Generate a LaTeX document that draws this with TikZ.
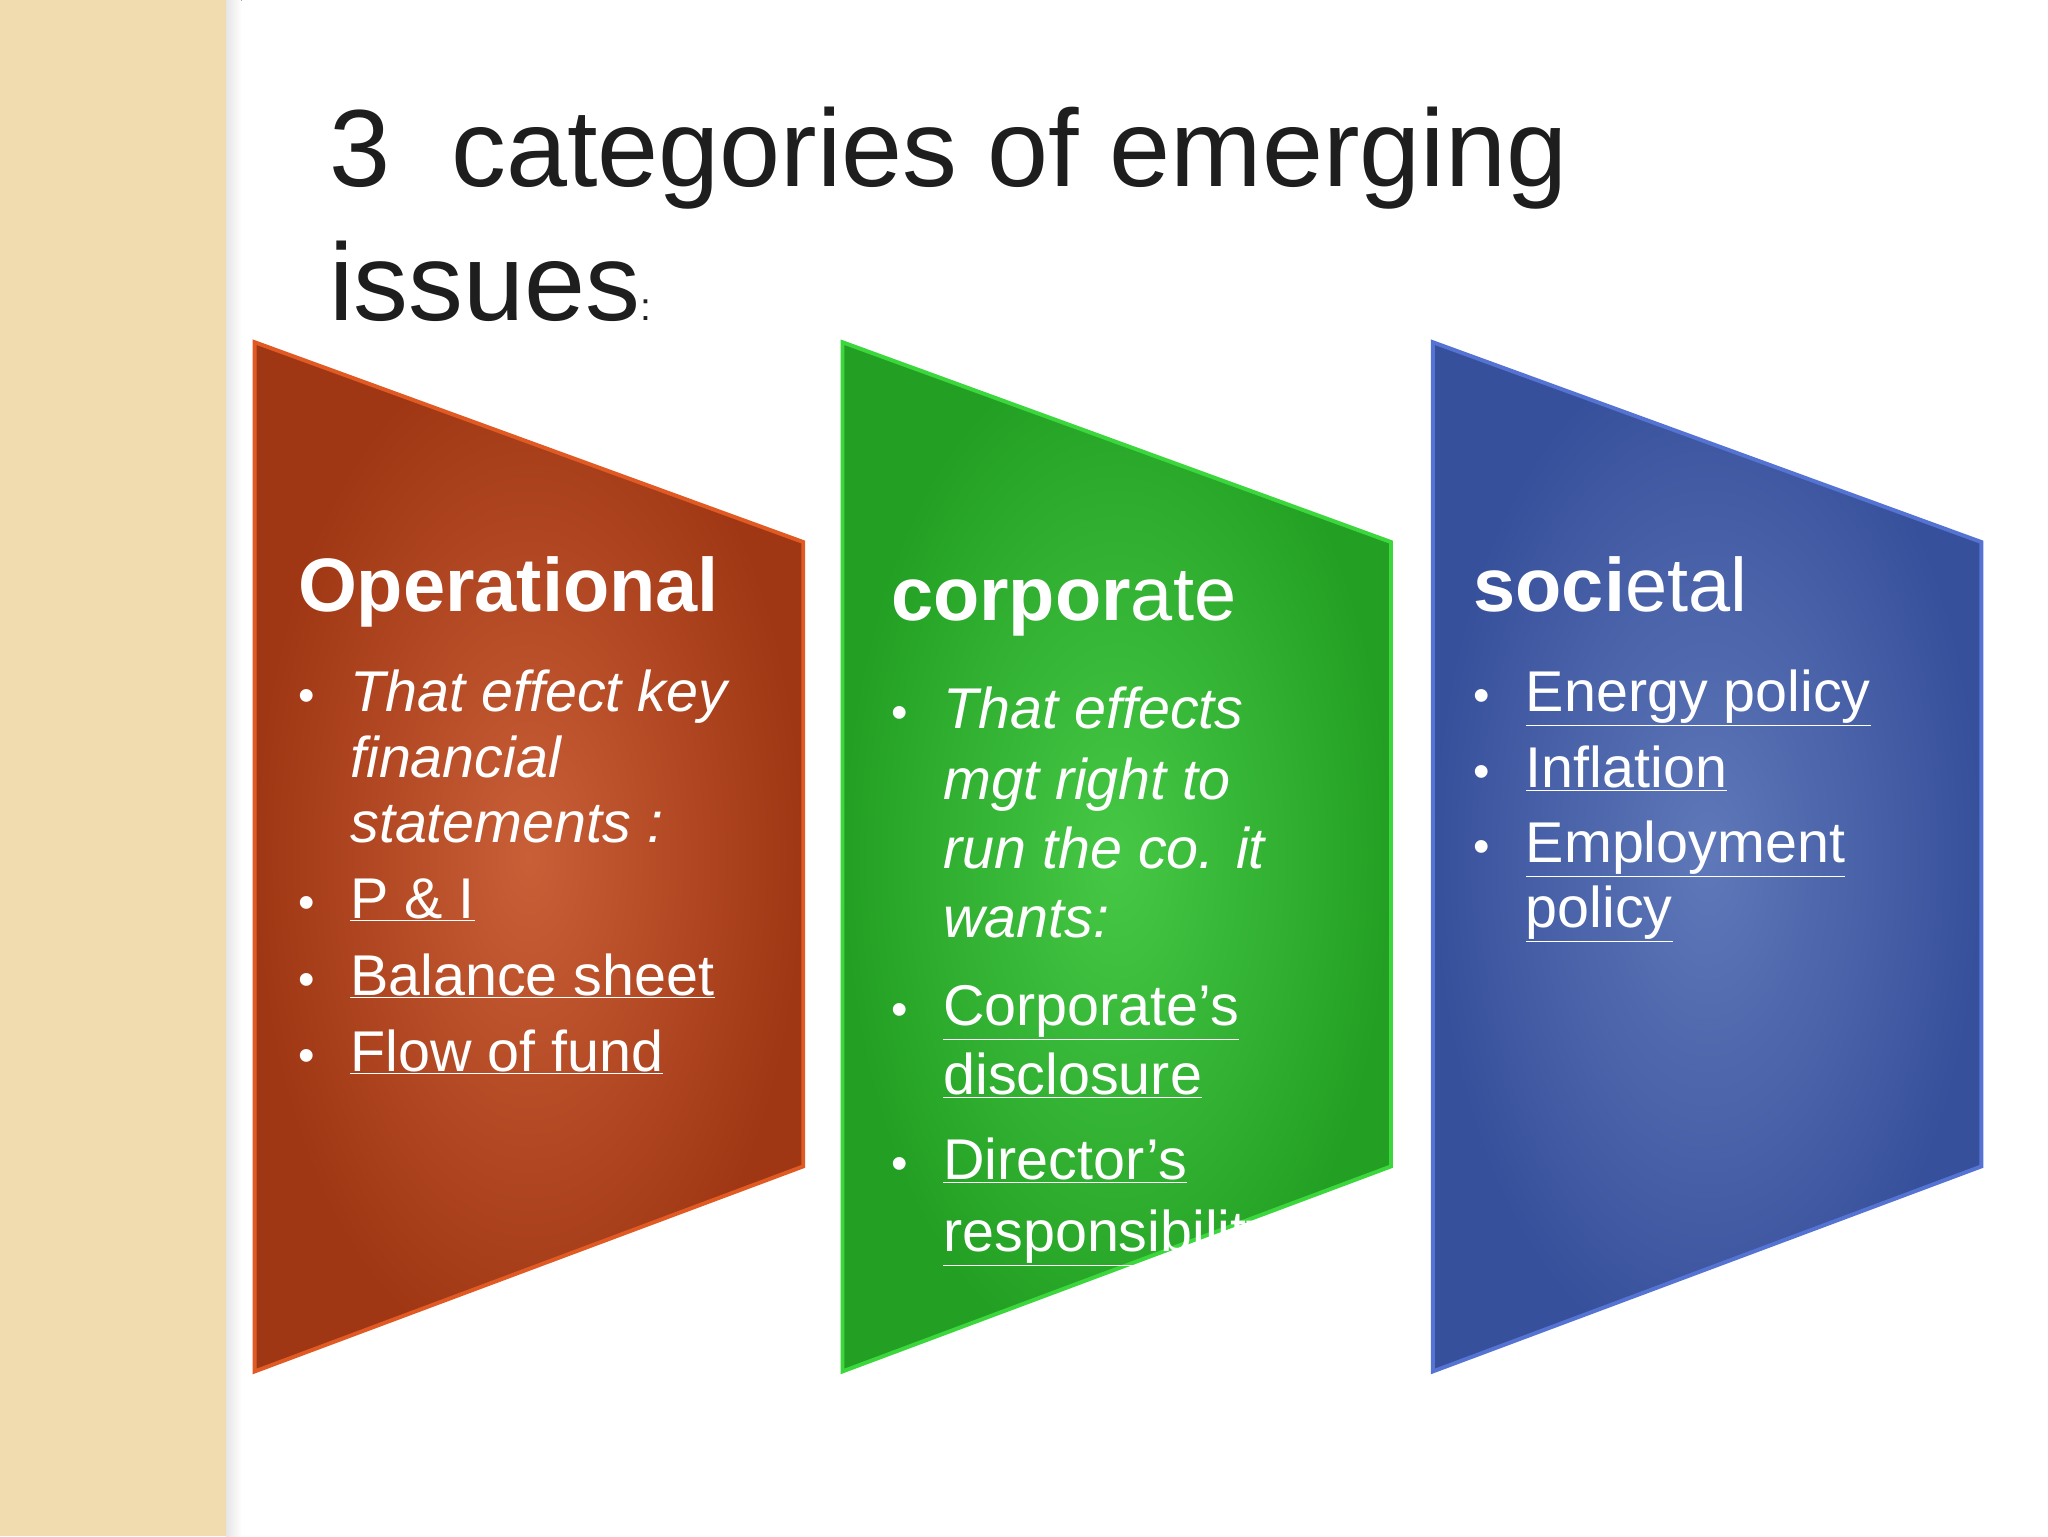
\documentclass[tikz,border=0pt]{standalone}
\usepackage{fontspec}
\setmainfont{Liberation Sans}
\begin{document}
\begin{tikzpicture}[x=1pt,y=-1pt,
  ln/.style={anchor=base west,inner sep=0pt,text=white,font=\fontsize{44}{50}\selectfont},
  hd/.style={anchor=base west,inner sep=0pt,text=white,font=\fontsize{58}{60}\selectfont},
  bl/.style={anchor=base west,inner sep=0pt,text=white,font=\fontsize{36}{40}\selectfont}]
\useasboundingbox (0,0) rectangle (1568,1176);
\fill[white] (0,0) rectangle (1568,1176);
\fill[left color=white!90!black,right color=white] (173,0) rectangle (185,1176);
\fill[fill=orange!25!yellow!30!white!95!brown] (0,0) rectangle (173,1176);
\fill[color={rgb,255:red,240;green,220;blue,175}] (0,0) rectangle (173,1176);
% title
\node[anchor=base west,inner sep=0pt,text={rgb,255:red,30;green,30;blue,30},font=\fontsize{84}{90}\selectfont] (t1) at (252,143) {3\ \ categories of emerging};
\node[anchor=base west,inner sep=0pt,text={rgb,255:red,30;green,30;blue,30},font=\fontsize{84}{90}\selectfont] (t2) at (252,245) {issues{\fontsize{30}{30}\selectfont:}};
% shapes
\shade[inner color={rgb,255:red,200;green,95;blue,55},outer color={rgb,255:red,160;green,55;blue,20}] (195,262) -- (615,415) -- (615,893) -- (195,1050) -- cycle;
\draw[line width=3pt,color={rgb,255:red,225;green,90;blue,35}] (195,262) -- (615,415) -- (615,893) -- (195,1050) -- cycle;
\shade[inner color={rgb,255:red,70;green,200;blue,70},outer color={rgb,255:red,35;green,160;blue,35}] (645,262) -- (1065,415) -- (1065,893) -- (645,1050) -- cycle;
\draw[line width=3pt,color={rgb,255:red,60;green,215;blue,60}] (645,262) -- (1065,415) -- (1065,893) -- (645,1050) -- cycle;
\shade[inner color={rgb,255:red,95;green,120;blue,185},outer color={rgb,255:red,55;green,80;blue,155}] (1097,262) -- (1517,415) -- (1517,893) -- (1097,1050) -- cycle;
\draw[line width=3pt,color={rgb,255:red,85;green,115;blue,210}] (1097,262) -- (1517,415) -- (1517,893) -- (1097,1050) -- cycle;
% red
\node[hd] (h1) at (228,468) {\textbf{Operational}};
\node[bl] (b11) at (228,545) {•};
\node[ln] (r1) at (268,545) {\textit{That effect key}};
\node[ln] (r2) at (268,595) {\textit{financial}};
\node[ln] (r3) at (268,645) {\textit{statements :}};
\node[bl] (b12) at (228,703) {•};
\node[ln] (r4) at (268,703) {\underline{P \& I}};
\node[bl] (b13) at (228,762) {•};
\node[ln] (r5) at (268,762) {\underline{Balance sheet}};
\node[bl] (b14) at (228,820) {•};
\node[ln] (r6) at (268,820) {\underline{Flow of fund}};
% green
\node[hd] (h2) at (682,475) {\textbf{corpor}ate};
\node[bl] (b21) at (682,558) {•};
\node[ln] (g1) at (722,558) {\textit{That effects}};
\node[ln] (g2) at (722,612) {\textit{mgt right to}};
\node[ln] (g3) at (722,665) {\textit{run the co. it}};
\node[ln] (g4) at (722,718) {\textit{wants:}};
\node[bl] (b22) at (682,785) {•};
\node[ln] (g5) at (722,785) {\underline{Corporate’s}};
\node[ln] (g6) at (722,838) {\underline{disclosure}};
\node[bl] (b23) at (682,903) {•};
\node[ln] (g7) at (722,903) {\underline{Director’s}};
\node[ln] (g8) at (722,958) {\underline{responsibility}};
% blue
\node[hd] (h3) at (1128,468) {\textbf{soci}etal};
\node[bl] (b31) at (1128,545) {•};
\node[ln] (u1) at (1168,545) {\underline{Energy policy}};
\node[bl] (b32) at (1128,603) {•};
\node[ln] (u2) at (1168,603) {\underline{Inflation}};
\node[bl] (b33) at (1128,660) {•};
\node[ln] (u3) at (1168,660) {\underline{Employment}};
\node[ln] (u4) at (1168,710) {\underline{policy}};
\end{tikzpicture}
\end{document}
